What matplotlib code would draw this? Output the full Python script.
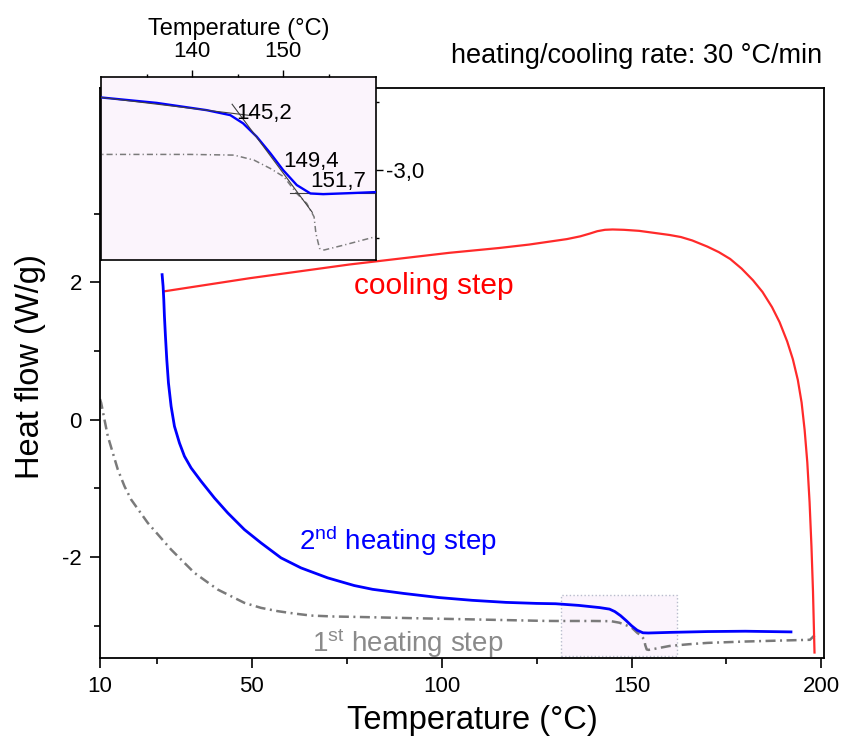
import matplotlib
matplotlib.use('Agg')
import matplotlib.pyplot as plt
from matplotlib.patches import Rectangle

plt.rcParams['font.family'] = ['Liberation Sans', 'DejaVu Sans']
plt.rcParams['mathtext.fontset'] = 'custom'
plt.rcParams['mathtext.rm'] = 'Liberation Sans'
plt.rcParams['mathtext.it'] = 'Liberation Sans:italic'

# ---------------- data ----------------
heat2_T = [26.36, 26.62, 26.80, 26.97, 27.24, 27.59, 28.03, 28.73, 29.61, 30.92, 32.24, 33.99,
           36.62, 40.13, 43.64, 48.03, 52.41, 57.68, 62.94, 69.96, 76.97, 81.8, 90.0, 99.3,
           108.0, 116.9, 125.0, 130.0, 136.1, 141.6, 144.2, 145.6, 147.1, 148.6, 150.0, 151.5,
           153.0, 154.4, 157.0, 160.1, 170.0, 180.0, 192.0]
heat2_y = [2.112, 1.942, 1.748, 1.506, 1.214, 0.875, 0.535, 0.195, -0.096, -0.338, -0.532, -0.702,
           -0.896, -1.139, -1.357, -1.600, -1.794, -2.012, -2.158, -2.303, -2.415, -2.47, -2.53, -2.59,
           -2.63, -2.66, -2.675, -2.680, -2.704, -2.736, -2.758, -2.794, -2.853, -2.926, -3.000, -3.066,
           -3.103, -3.106, -3.102, -3.097, -3.085, -3.080, -3.090]

heat1_T = [10.0, 10.31, 11.18, 12.06, 13.38, 14.69, 16.45, 18.20, 20.39, 22.59, 25.66, 28.73,
           31.80, 34.87, 37.94, 41.01, 44.52, 48.03, 52.41, 56.80, 61.18, 65.57, 71.71, 76.97,
           92.3, 110.0, 127.4, 130.0, 139.8, 144.6, 146.8, 148.6, 150.1, 151.5, 152.6, 153.4,
           153.6, 154.0, 154.5, 156.7, 160.0, 165.0, 170.0, 180.0, 190.0, 197.0, 198.2]
heat1_y = [0.30, 0.244, 0.001, -0.241, -0.484, -0.726, -0.969, -1.163, -1.333, -1.503, -1.697, -1.891,
           -2.061, -2.230, -2.352, -2.473, -2.570, -2.667, -2.740, -2.788, -2.823, -2.852, -2.866, -2.871,
           -2.89, -2.91, -2.93, -2.931, -2.931, -2.934, -2.956, -2.993, -3.030, -3.103, -3.147, -3.206,
           -3.279, -3.345, -3.352, -3.330, -3.295, -3.27, -3.25, -3.23, -3.215, -3.205, -3.14]

cool_T = [27.0, 49.4, 75.7, 102.0, 115.1, 123.0, 128.0, 133.0, 136.5, 139.0, 141.0, 143.0,
          145.0, 148.0, 152.0, 156.0, 160.0, 163.0, 166.0, 170.0, 173.0, 176.0, 179.0, 182.0,
          184.5, 187.0, 189.0, 191.0, 192.5, 193.8, 194.8, 195.6, 196.3, 196.9, 197.4, 197.8,
          198.2]
cool_y = [1.87, 2.06, 2.26, 2.43, 2.50, 2.55, 2.59, 2.63, 2.67, 2.71, 2.745, 2.765,
          2.77, 2.765, 2.75, 2.72, 2.69, 2.66, 2.61, 2.52, 2.44, 2.34, 2.20, 2.03,
          1.86, 1.64, 1.42, 1.14, 0.88, 0.58, 0.25, -0.15, -0.62, -1.20, -1.85, -2.50,
          -3.39]

# tangent construction in the inset (onset / midpoint / endset)
tan_labels = ['145,2', '149,4', '151,7']
tan1_T = [130.0, 146.5]
tan1_y = [-2.680, -2.760]
tan2_T = [144.4, 153.2]
tan2_y = [-2.710, -3.186]
tan3_T = [150.8, 160.0]
tan3_y = [-3.103, -3.103]

# zoom box in main plot
box_T = [131.5, 162.0]
box_y = [-3.44, -2.555]

x_major = [10, 50, 100, 150, 200]
x_minor = [25, 75, 125, 175]
y_major = [-2, 0, 2]
y_major_labels = ['-2', '0', '2']
y_minor = [-3, -1, 1, 3]

in_x_major = [140, 150]
in_x_minor = [135, 145, 155]
in_y_major = [-3.0]
in_y_major_labels = ['-3,0']
in_y_minor = [-3.3, -2.7]

BLUE = '#0000ff'
RED = '#ff2a2a'
GRAY = '#7a7a7a'
LAV = '#fbf4fc'

# ---------------- figure ----------------
fig = plt.figure(figsize=(8.42, 7.42), dpi=100)
ax = fig.add_axes([100/842, 84/742, 724/842, 570/742])

ax.add_patch(Rectangle((box_T[0], box_y[0]), box_T[1]-box_T[0], box_y[1]-box_y[0],
                       facecolor=LAV, edgecolor='#b8bccc', linestyle=':', linewidth=1.0, zorder=0.5))

ax.plot(heat1_T, heat1_y, color=GRAY, lw=1.8, linestyle=(0, (4, 1.8, 0.8, 1.8)), zorder=2)
ax.plot(cool_T, cool_y, color=RED, lw=1.6, zorder=3)
ax.plot(heat2_T, heat2_y, color=BLUE, lw=2.0, zorder=4)

ax.set_xlim(10, 200.7)
ax.set_ylim(-3.47, 4.83)
ax.set_xticks(x_major)
ax.set_xticks(x_minor, minor=True)
ax.set_yticks(y_major)
ax.set_yticklabels(y_major_labels)
ax.set_yticks(y_minor, minor=True)
ax.tick_params(which='both', direction='out', top=False, right=False, width=1.2, labelsize=16)
ax.tick_params(which='major', length=7)
ax.tick_params(which='minor', length=4)
ax.tick_params(axis='x', pad=6)
ax.tick_params(axis='y', pad=6)
for s in ax.spines.values():
    s.set_linewidth(1.3)

ax.set_xlabel('Temperature (°C)', fontsize=23.5)
ax.set_ylabel('Heat flow (W/g)', fontsize=23.5)
ax.xaxis.set_label_coords(0.514, -0.082)
ax.yaxis.set_label_coords(-0.074, 0.512)

ax.text(77.0, 1.835, 'cooling step', color='#ff0000', fontsize=21.5, ha='left', va='baseline')
ax.text(62.5, -1.891, r'2$^{\mathrm{nd}}$ heating step', color=BLUE, fontsize=20, ha='left', va='baseline')
ax.text(65.9, -3.376, r'1$^{\mathrm{st}}$ heating step', color='#8a8a8a', fontsize=20, ha='left', va='baseline')

fig.text(822/842, (742-63)/742, 'heating/cooling rate: 30 °C/min', fontsize=19.5, ha='right', va='baseline')

# ---------------- inset ----------------
axi = fig.add_axes([101/842, (742-260)/742, 275/842, 183/742])
axi.set_facecolor(LAV)
axi.plot(heat1_T, heat1_y, color=GRAY, lw=1.1, linestyle=(0, (4, 2, 0.8, 2)), zorder=2)
axi.plot(heat2_T, heat2_y, color=BLUE, lw=1.7, zorder=3)
axi.plot(tan1_T, tan1_y, color='#404040', lw=0.8, zorder=4)
axi.plot(tan2_T, tan2_y, color='#404040', lw=0.8, zorder=4)
axi.plot(tan3_T, tan3_y, color='#404040', lw=0.8, zorder=2.5)

axi.text(144.9, -2.775, tan_labels[0], fontsize=16, ha='left', va='baseline', zorder=5)
axi.text(150.0, -2.985, tan_labels[1], fontsize=16, ha='left', va='baseline', zorder=5)
axi.text(153.0, -3.073, tan_labels[2], fontsize=16, ha='left', va='baseline', zorder=5)

axi.set_xlim(130, 160.2)
axi.set_ylim(-3.396, -2.590)
axi.xaxis.tick_top()
axi.xaxis.set_label_position('top')
axi.yaxis.tick_right()
axi.set_xticks(in_x_major)
axi.set_xticks(in_x_minor, minor=True)
axi.set_yticks(in_y_major)
axi.set_yticklabels(in_y_major_labels)
axi.set_yticks(in_y_minor, minor=True)
axi.tick_params(which='both', direction='out', width=1.0, labelsize=16)
axi.tick_params(which='major', length=5)
axi.tick_params(which='minor', length=2.5)
axi.tick_params(axis='x', pad=6)
axi.tick_params(axis='y', pad=2)
axi.set_xlabel('Temperature (°C)', fontsize=17, labelpad=4)
for s in axi.spines.values():
    s.set_linewidth(1.2)

fig.savefig('out.png', dpi=100)
